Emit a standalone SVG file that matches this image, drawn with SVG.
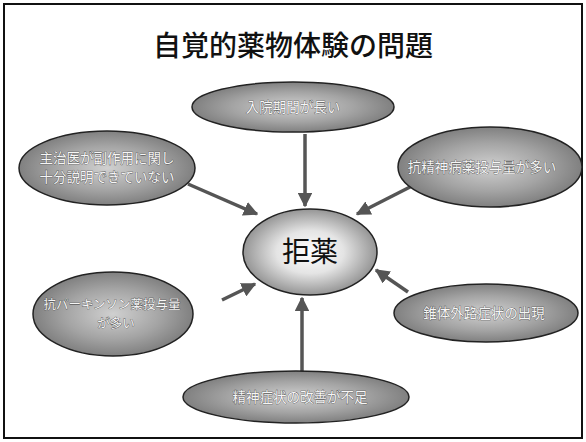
<svg xmlns="http://www.w3.org/2000/svg" width="586" height="442" viewBox="0 0 586 442">
<defs>
<radialGradient id="g" cx="50%" cy="50%" r="50%">
<stop offset="0" stop-color="#d0d0d0"/>
<stop offset="0.6" stop-color="#a4a4a4"/>
<stop offset="1" stop-color="#808080"/>
</radialGradient>
<radialGradient id="gc" cx="50%" cy="50%" r="50%">
<stop offset="0" stop-color="#ffffff"/>
<stop offset="0.5" stop-color="#e4e4e4"/>
<stop offset="1" stop-color="#959595"/>
</radialGradient>
<marker id="ah" viewBox="0 0 10 10" refX="9" refY="5" markerWidth="4.2" markerHeight="4.2" orient="auto">
<path d="M0,0 L10,5 L0,10 z" fill="#555"/>
</marker>
<style>
.n{fill:url(#g);stroke:#222;stroke-width:1.5}
.t{font-family:"Noto Sans CJK JP",sans-serif;font-size:13.5px;fill:#f6f6f6;stroke:#3a3a3a;stroke-width:0.6;paint-order:stroke;text-anchor:middle}
.s{font-size:12.5px}
.c{stroke:#555;stroke-width:3.5;fill:none;marker-end:url(#ah)}
</style>
</defs>
<rect x="4" y="4" width="578" height="434" fill="#fff" stroke="#111" stroke-width="2"/>
<text x="293" y="56" font-family="'Noto Sans CJK JP',sans-serif" font-size="28" font-weight="500" text-anchor="middle" fill="#111">自覚的薬物体験の問題</text>
<g id="connectors">
<line class="c" x1="305" y1="134" x2="305" y2="206"/>
<line class="c" x1="188" y1="184" x2="257" y2="214"/>
<line class="c" x1="412" y1="186" x2="357" y2="214"/>
<line class="c" x1="222" y1="300" x2="255" y2="284"/>
<line class="c" x1="408" y1="292" x2="376" y2="270"/>
<line class="c" x1="302" y1="372" x2="302" y2="298"/>
</g>
<g id="top"><ellipse class="n" cx="293" cy="107" rx="101" ry="25"/><text class="t" x="293" y="112">入院期間が長い</text></g>
<g id="upperleft"><ellipse class="n" cx="107" cy="168" rx="88" ry="37"/><text class="t" x="107" y="163">主治医が副作用に関し</text><text class="t" x="107" y="182">十分説明できていない</text></g>
<g id="upperright"><ellipse class="n" cx="490" cy="167" rx="92" ry="40"/><text class="t" x="482" y="172">抗精神病薬投与量が多い</text></g>
<g id="center"><ellipse cx="310" cy="252" rx="67" ry="43" fill="url(#gc)" stroke="#222" stroke-width="1.5"/><text x="310" y="262" font-family="'Noto Sans CJK JP',sans-serif" font-size="28" text-anchor="middle" fill="#111">拒薬</text></g>
<g id="lowerleft"><ellipse class="n" cx="113" cy="314" rx="80" ry="42"/><text class="t s" x="112" y="309">抗パーキンソン薬投与量</text><text class="t s" x="116" y="328">が多い</text></g>
<g id="lowerright"><ellipse class="n" cx="486" cy="313" rx="92" ry="29"/><text class="t" x="484" y="318">錐体外路症状の出現</text></g>
<g id="bottom"><ellipse class="n" cx="296" cy="397" rx="113" ry="26"/><text class="t" x="300" y="402">精神症状の改善が不足</text></g>
</svg>
